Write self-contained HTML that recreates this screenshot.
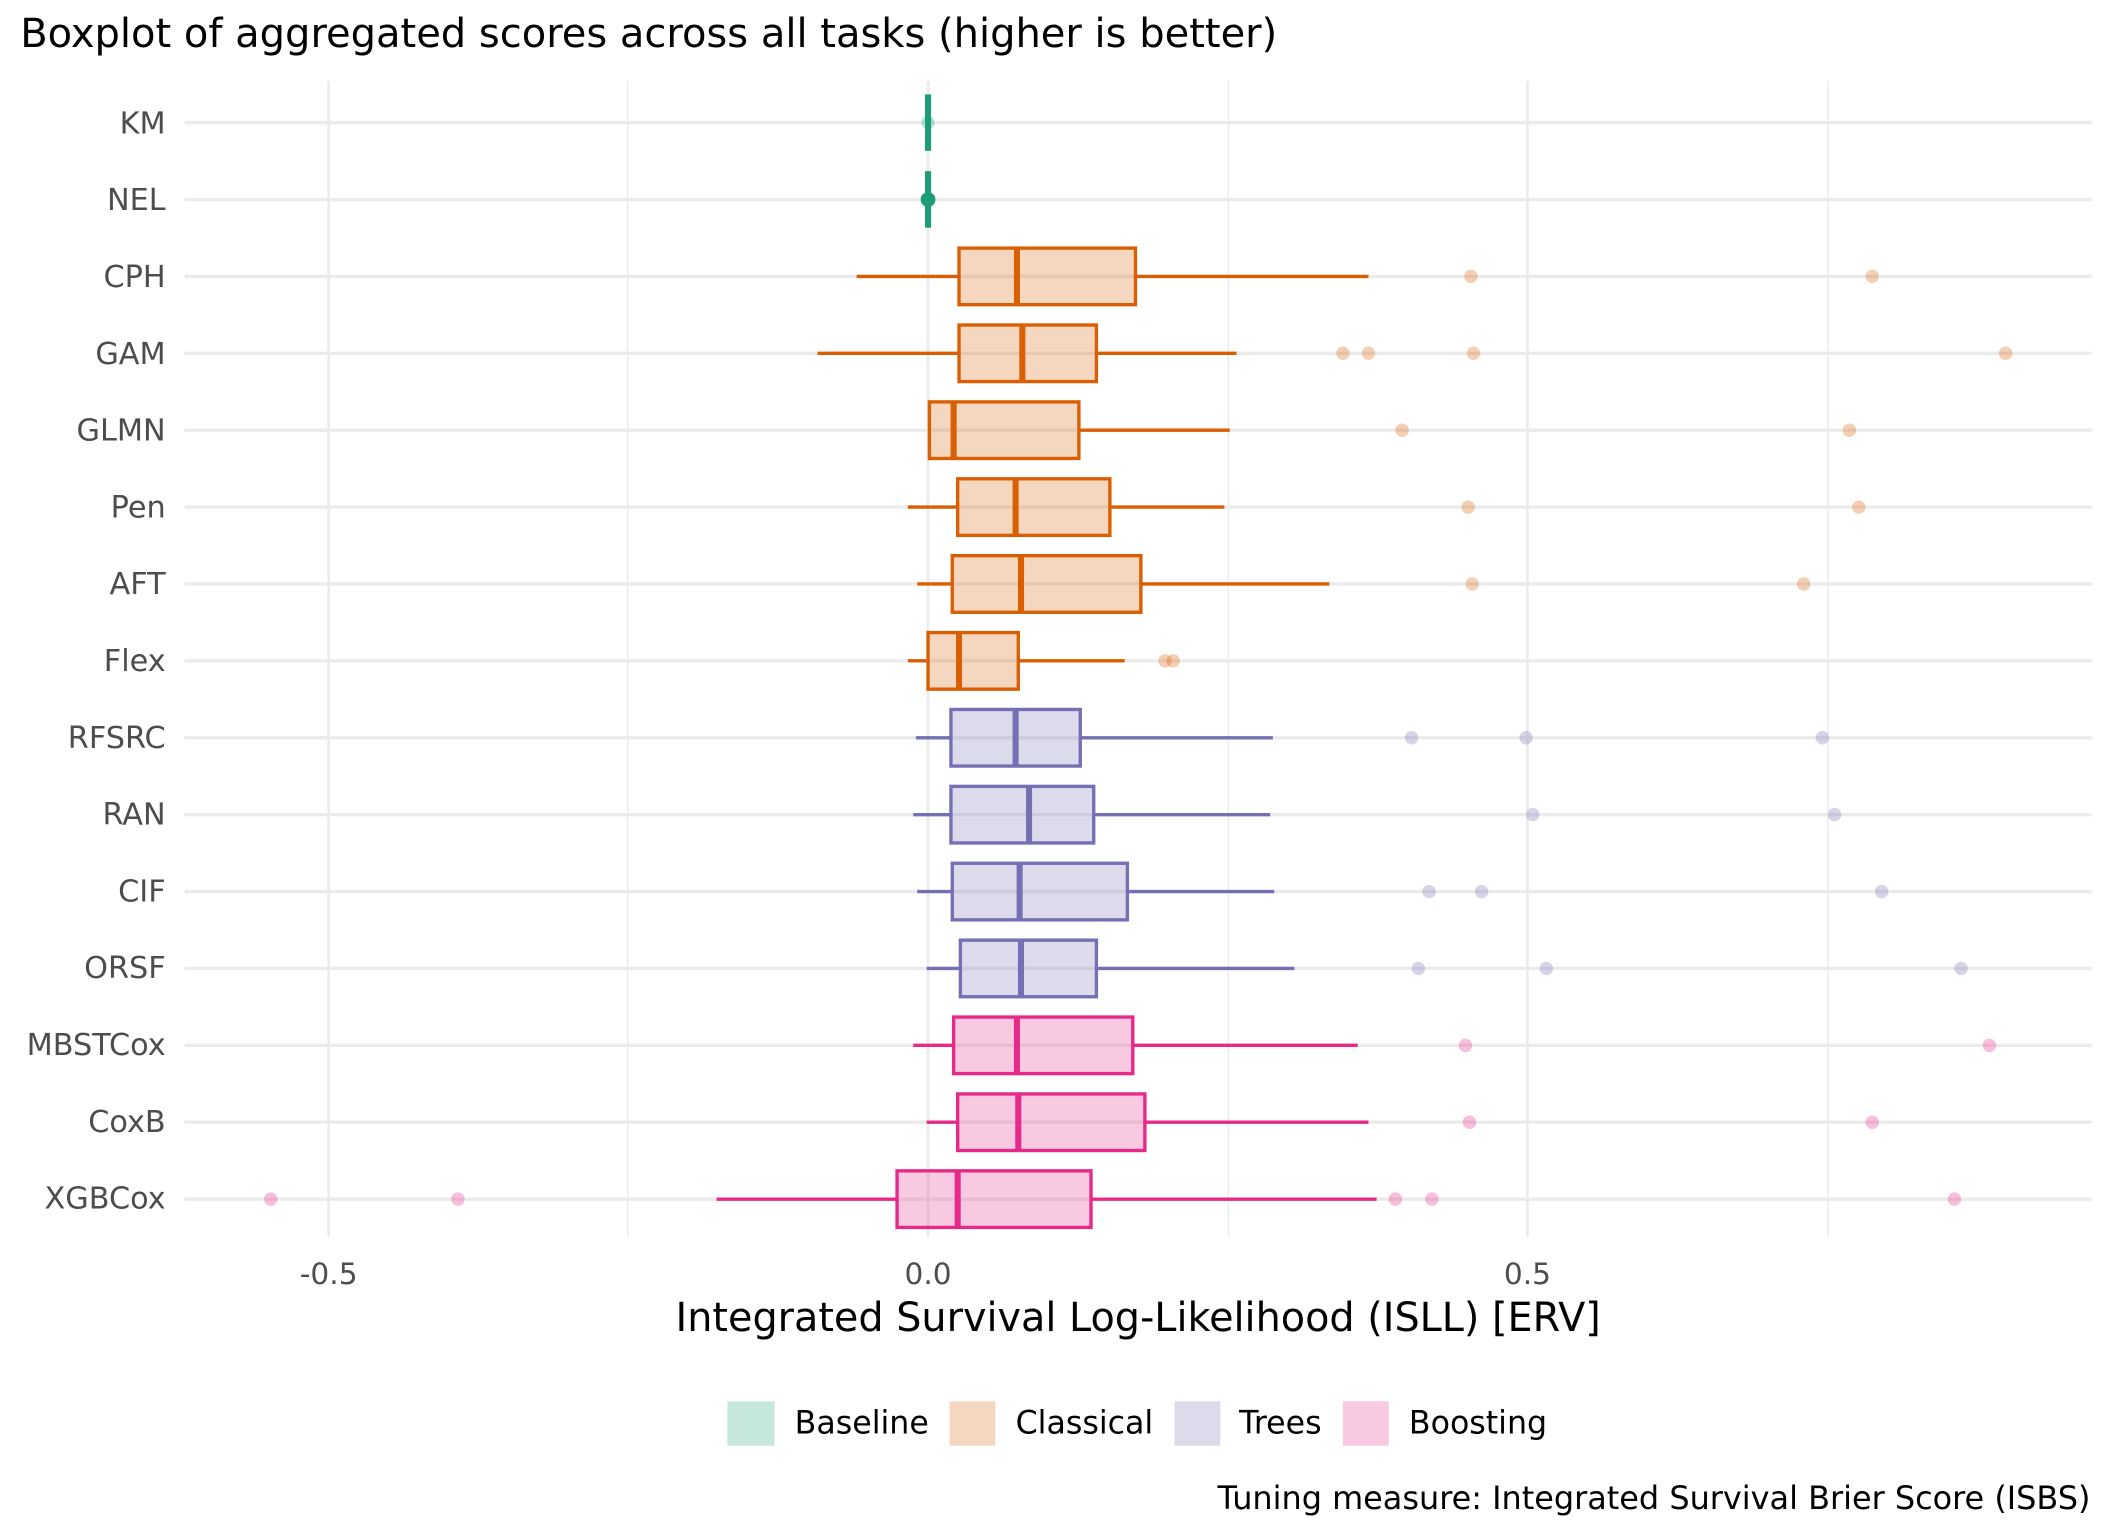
<!DOCTYPE html>
<html><head><meta charset="utf-8"><style>html,body{margin:0;padding:0;background:#fff}svg{display:block}</style></head>
<body>
<svg width="2112" height="1536" viewBox="0 0 1568 1140" preserveAspectRatio="none" xmlns="http://www.w3.org/2000/svg" font-family="'DejaVu Sans','Liberation Sans',sans-serif">
<rect width="1568" height="1140" fill="#fff"/>
<text x="15" y="35" font-size="29.7" fill="#000">Boxplot of aggregated scores across all tasks (higher is better)</text>
<g stroke="#ebebeb">
<line x1="466" y1="60" x2="466" y2="918" stroke-width="1"/>
<line x1="912" y1="60" x2="912" y2="918" stroke-width="1"/>
<line x1="1357" y1="60" x2="1357" y2="918" stroke-width="1"/>
<line x1="244" y1="60" x2="244" y2="918" stroke-width="2"/>
<line x1="689" y1="60" x2="689" y2="918" stroke-width="2"/>
<line x1="1134" y1="60" x2="1134" y2="918" stroke-width="2"/>
</g>
<g stroke="#ebebeb" stroke-width="2.5">
<line x1="137" x2="1553" y1="91" y2="91"/><line x1="137" x2="1553" y1="148.07" y2="148.07"/><line x1="137" x2="1553" y1="205.14" y2="205.14"/><line x1="137" x2="1553" y1="262.21" y2="262.21"/><line x1="137" x2="1553" y1="319.28" y2="319.28"/><line x1="137" x2="1553" y1="376.35" y2="376.35"/><line x1="137" x2="1553" y1="433.42" y2="433.42"/><line x1="137" x2="1553" y1="490.49" y2="490.49"/><line x1="137" x2="1553" y1="547.56" y2="547.56"/><line x1="137" x2="1553" y1="604.63" y2="604.63"/><line x1="137" x2="1553" y1="661.7" y2="661.7"/><line x1="137" x2="1553" y1="718.77" y2="718.77"/><line x1="137" x2="1553" y1="775.84" y2="775.84"/><line x1="137" x2="1553" y1="832.91" y2="832.91"/><line x1="137" x2="1553" y1="889.98" y2="889.98"/>
</g>
<g font-size="22.5" fill="#4d4d4d" text-anchor="end">
<text x="123" y="99">KM</text><text x="123" y="156">NEL</text><text x="123" y="213">CPH</text><text x="123" y="270">GAM</text><text x="123" y="327">GLMN</text><text x="123" y="384">Pen</text><text x="123" y="441">AFT</text><text x="123" y="498">Flex</text><text x="123" y="555">RFSRC</text><text x="123" y="612">RAN</text><text x="123" y="669">CIF</text><text x="123" y="726">ORSF</text><text x="123" y="783">MBSTCox</text><text x="123" y="840">CoxB</text><text x="123" y="897">XGBCox</text>
</g>
<line x1="689" x2="689" y1="70" y2="112" stroke="#1b9e77" stroke-width="4.5"/>
<circle cx="689" cy="91" r="5" fill="#1b9e77" fill-opacity="0.3"/>
<line x1="689" x2="689" y1="127" y2="169" stroke="#1b9e77" stroke-width="4.5"/>
<circle cx="689" cy="148.07" r="5.5" fill="#1b9e77"/>
<g stroke="#d95f02" stroke-width="2.5" fill="#d95f02">
<g transform="translate(0,205.14)"><line x1="636" x2="712" y1="0" y2="0"/><line x1="843" x2="1016" y1="0" y2="0"/><rect x="712" y="-21" width="131" height="42" fill-opacity="0.25"/><line x1="755" x2="755" y1="-21" y2="21" stroke-width="4.5"/><g stroke="none" fill-opacity="0.3"><circle cx="1092" r="5"/><circle cx="1390" r="5"/></g></g>
<g transform="translate(0,262.21)"><line x1="607" x2="712" y1="0" y2="0"/><line x1="814" x2="918" y1="0" y2="0"/><rect x="712" y="-21" width="102" height="42" fill-opacity="0.25"/><line x1="759" x2="759" y1="-21" y2="21" stroke-width="4.5"/><g stroke="none" fill-opacity="0.3"><circle cx="997" r="5"/><circle cx="1016" r="5"/><circle cx="1094" r="5"/><circle cx="1489" r="5"/></g></g>
<g transform="translate(0,319.28)"><line x1="801" x2="913" y1="0" y2="0"/><rect x="690" y="-21" width="111" height="42" fill-opacity="0.25"/><line x1="708" x2="708" y1="-21" y2="21" stroke-width="4.5"/><g stroke="none" fill-opacity="0.3"><circle cx="1041" r="5"/><circle cx="1373" r="5"/></g></g>
<g transform="translate(0,376.35)"><line x1="674" x2="711" y1="0" y2="0"/><line x1="824" x2="909" y1="0" y2="0"/><rect x="711" y="-21" width="113" height="42" fill-opacity="0.25"/><line x1="754" x2="754" y1="-21" y2="21" stroke-width="4.5"/><g stroke="none" fill-opacity="0.3"><circle cx="1090" r="5"/><circle cx="1380" r="5"/></g></g>
<g transform="translate(0,433.42)"><line x1="681" x2="707" y1="0" y2="0"/><line x1="847" x2="987" y1="0" y2="0"/><rect x="707" y="-21" width="140" height="42" fill-opacity="0.25"/><line x1="758" x2="758" y1="-21" y2="21" stroke-width="4.5"/><g stroke="none" fill-opacity="0.3"><circle cx="1093" r="5"/><circle cx="1339" r="5"/></g></g>
<g transform="translate(0,490.49)"><line x1="674" x2="689" y1="0" y2="0"/><line x1="756" x2="835" y1="0" y2="0"/><rect x="689" y="-21" width="67" height="42" fill-opacity="0.25"/><line x1="712" x2="712" y1="-21" y2="21" stroke-width="4.5"/><g stroke="none" fill-opacity="0.3"><circle cx="865" r="5"/><circle cx="871" r="5"/></g></g>
</g>
<g stroke="#7570b3" stroke-width="2.5" fill="#7570b3">
<g transform="translate(0,547.56)"><line x1="680" x2="706" y1="0" y2="0"/><line x1="802" x2="945" y1="0" y2="0"/><rect x="706" y="-21" width="96" height="42" fill-opacity="0.25"/><line x1="754" x2="754" y1="-21" y2="21" stroke-width="4.5"/><g stroke="none" fill-opacity="0.3"><circle cx="1048" r="5"/><circle cx="1133" r="5"/><circle cx="1353" r="5"/></g></g>
<g transform="translate(0,604.63)"><line x1="678" x2="706" y1="0" y2="0"/><line x1="812" x2="943" y1="0" y2="0"/><rect x="706" y="-21" width="106" height="42" fill-opacity="0.25"/><line x1="764" x2="764" y1="-21" y2="21" stroke-width="4.5"/><g stroke="none" fill-opacity="0.3"><circle cx="1138" r="5"/><circle cx="1362" r="5"/></g></g>
<g transform="translate(0,661.7)"><line x1="681" x2="707" y1="0" y2="0"/><line x1="837" x2="946" y1="0" y2="0"/><rect x="707" y="-21" width="130" height="42" fill-opacity="0.25"/><line x1="757" x2="757" y1="-21" y2="21" stroke-width="4.5"/><g stroke="none" fill-opacity="0.3"><circle cx="1061" r="5"/><circle cx="1100" r="5"/><circle cx="1397" r="5"/></g></g>
<g transform="translate(0,718.77)"><line x1="688" x2="713" y1="0" y2="0"/><line x1="814" x2="961" y1="0" y2="0"/><rect x="713" y="-21" width="101" height="42" fill-opacity="0.25"/><line x1="758" x2="758" y1="-21" y2="21" stroke-width="4.5"/><g stroke="none" fill-opacity="0.3"><circle cx="1053" r="5"/><circle cx="1148" r="5"/><circle cx="1456" r="5"/></g></g>
</g>
<g stroke="#e7298a" stroke-width="2.5" fill="#e7298a">
<g transform="translate(0,775.84)"><line x1="678" x2="708" y1="0" y2="0"/><line x1="841" x2="1008" y1="0" y2="0"/><rect x="708" y="-21" width="133" height="42" fill-opacity="0.25"/><line x1="755" x2="755" y1="-21" y2="21" stroke-width="4.5"/><g stroke="none" fill-opacity="0.3"><circle cx="1088" r="5"/><circle cx="1477" r="5"/></g></g>
<g transform="translate(0,832.91)"><line x1="688" x2="711" y1="0" y2="0"/><line x1="850" x2="1016" y1="0" y2="0"/><rect x="711" y="-21" width="139" height="42" fill-opacity="0.25"/><line x1="756" x2="756" y1="-21" y2="21" stroke-width="4.5"/><g stroke="none" fill-opacity="0.3"><circle cx="1091" r="5"/><circle cx="1390" r="5"/></g></g>
<g transform="translate(0,889.98)"><line x1="532" x2="666" y1="0" y2="0"/><line x1="810" x2="1022" y1="0" y2="0"/><rect x="666" y="-21" width="144" height="42" fill-opacity="0.25"/><line x1="711" x2="711" y1="-21" y2="21" stroke-width="4.5"/><g stroke="none" fill-opacity="0.3"><circle cx="201" r="5"/><circle cx="340" r="5"/><circle cx="1036" r="5"/><circle cx="1063" r="5"/><circle cx="1451" r="5"/></g></g>
</g>
<g font-size="22" fill="#4d4d4d" text-anchor="middle">
<text x="244" y="953">-0.5</text><text x="689" y="953">0.0</text><text x="1134" y="953">0.5</text>
</g>
<text x="845" y="988" font-size="29.5" text-anchor="middle" fill="#000">Integrated Survival Log-Likelihood (ISLL) [ERV]</text>
<g font-size="23.5" fill="#000">
<rect x="540" y="1040" width="35" height="33" fill="#1b9e77" fill-opacity="0.25"/><text x="590" y="1064">Baseline</text>
<rect x="705" y="1040" width="34" height="33" fill="#d95f02" fill-opacity="0.25"/><text x="754" y="1064">Classical</text>
<rect x="872" y="1040" width="34" height="33" fill="#7570b3" fill-opacity="0.25"/><text x="920" y="1064">Trees</text>
<rect x="997" y="1040" width="34" height="33" fill="#e7298a" fill-opacity="0.25"/><text x="1046" y="1064">Boosting</text>
</g>
<text x="1552" y="1120" font-size="23.7" text-anchor="end" fill="#000">Tuning measure: Integrated Survival Brier Score (ISBS)</text>
</svg>
</body></html>
